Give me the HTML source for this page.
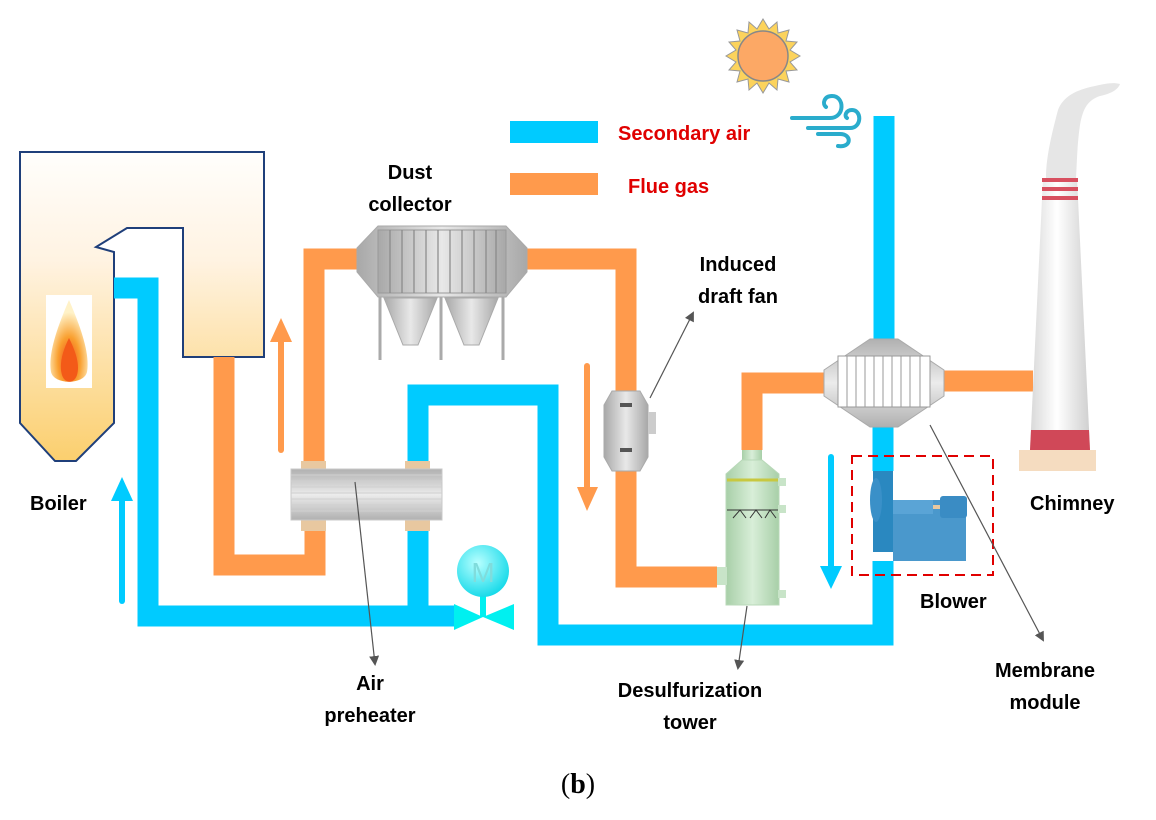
<!DOCTYPE html>
<html><head><meta charset="utf-8"><style>
body{margin:0;background:#fff}
svg{display:block}
text{font-family:"Liberation Sans",sans-serif;font-weight:bold;font-size:20px;fill:#000}
</style></head><body>
<svg width="1156" height="820" viewBox="0 0 1156 820" xmlns="http://www.w3.org/2000/svg">
<defs>
<linearGradient id="bg" x1="0" y1="0" x2="0" y2="1"><stop offset="0" stop-color="#fffefc"/><stop offset="0.35" stop-color="#fff3e2"/><stop offset="1" stop-color="#fbcf6e"/></linearGradient>
<radialGradient id="fl" cx="0.5" cy="0.75" r="0.6"><stop offset="0" stop-color="#f04818"/><stop offset="0.5" stop-color="#f9a030"/><stop offset="1" stop-color="#fff2c8"/></radialGradient>
<linearGradient id="gr" x1="0" y1="0" x2="1" y2="0"><stop offset="0" stop-color="#a8a8a8"/><stop offset="0.5" stop-color="#e8e8e8"/><stop offset="1" stop-color="#a8a8a8"/></linearGradient>
<linearGradient id="grv" x1="0" y1="0" x2="0" y2="1"><stop offset="0" stop-color="#b0b0b0"/><stop offset="0.5" stop-color="#ececec"/><stop offset="1" stop-color="#b0b0b0"/></linearGradient>
<linearGradient id="gn" x1="0" y1="0" x2="1" y2="0"><stop offset="0" stop-color="#a8cfa8"/><stop offset="0.5" stop-color="#d8eed8"/><stop offset="1" stop-color="#a8cfa8"/></linearGradient>
<linearGradient id="ch" x1="0" y1="0" x2="1" y2="0"><stop offset="0" stop-color="#d8d8d8"/><stop offset="0.45" stop-color="#ffffff"/><stop offset="1" stop-color="#cfcfcf"/></linearGradient>
<radialGradient id="mo" cx="0.4" cy="0.35" r="0.7"><stop offset="0" stop-color="#b8ffff"/><stop offset="1" stop-color="#10d8e8"/></radialGradient>
<marker id="ah" markerWidth="10" markerHeight="10" refX="8" refY="5" orient="auto" markerUnits="userSpaceOnUse"><path d="M0,0 L10,5 L0,10 Z" fill="#555"/></marker>
</defs>

<!-- legend -->
<rect x="510" y="121" width="88" height="22" fill="#00cbff"/>
<rect x="510" y="173" width="88" height="22" fill="#ff9a4c"/>
<text x="618" y="140" style="fill:#e00000">Secondary air</text>
<text x="628" y="193" style="fill:#e00000">Flue gas</text>

<!-- sun -->
<g transform="translate(763,56)">
<polygon fill="#fcd35c" stroke="#999" stroke-width="1" points="0,-37 6,-27 14,-34 15,-23 26,-26 23,-15 34,-14 27,-6 37,0 27,6 34,14 23,15 26,26 15,23 14,34 6,27 0,37 -6,27 -14,34 -15,23 -26,26 -23,15 -34,14 -27,6 -37,0 -27,-6 -34,-14 -23,-15 -26,-26 -15,-23 -14,-34 -6,-27"/>
<circle r="25" fill="#fca865" stroke="#888" stroke-width="1.5"/>
</g>
<!-- wind -->
<g fill="none" stroke="#2aaccc" stroke-width="4" stroke-linecap="round">
<path d="M792,118 H830 C845,118 845,96 832,96 C824,96 822,104 826,107"/>
<path d="M808,128 H850 C862,128 862,110 852,110 C846,110 844,116 847,118"/>
<path d="M818,134 H840 C852,134 852,148 838,146"/>
</g>

<!-- boiler -->
<path d="M20,152 H264 V357 H183 V228 H127 L96,247 L114,252 V423 L76,461 H55 L20,423 Z" fill="url(#bg)" stroke="#1f3f7a" stroke-width="2"/>
<rect x="46" y="295" width="46" height="93" fill="#fff"/>
<path d="M69,300 C56,330 48,355 51,372 C54,385 84,385 87,372 C90,355 82,330 69,300 Z" fill="url(#fl)"/>
<path d="M69,338 C62,352 59,365 62,375 C65,384 74,384 77,375 C80,365 76,352 69,338 Z" fill="#f35a18"/>

<!-- blue pipes -->
<g fill="none" stroke="#00cbff" stroke-width="21">
<polyline points="114,288 148,288 148,616 454,616"/>
<polyline points="418,616 418,395 548,395 548,635 883,635 883,561"/>
<line x1="883" y1="427" x2="883" y2="471"/>
<line x1="884" y1="116" x2="884" y2="339"/>
</g>
<!-- orange pipes -->
<g fill="none" stroke="#ff9a4c" stroke-width="21">
<polyline points="224,357 224,565 315,565 315,520"/>
<polyline points="314,469 314,259 358,259"/>
<polyline points="527,259 626,259 626,391"/>
<polyline points="626,471 626,577 717,577"/>
<polyline points="752,450 752,383 824,383"/>
<line x1="944" y1="381" x2="1033" y2="381"/>
</g>

<!-- flow arrows -->
<g stroke-linecap="round">
<line x1="122" y1="601" x2="122" y2="495" stroke="#00cbff" stroke-width="6"/>
<polygon points="122,477 111,501 133,501" fill="#00cbff"/>
<line x1="281" y1="450" x2="281" y2="338" stroke="#ff9a4c" stroke-width="6"/>
<polygon points="281,318 270,342 292,342" fill="#ff9a4c"/>
<line x1="587" y1="366" x2="587" y2="492" stroke="#ff9a4c" stroke-width="6"/>
<polygon points="587,511 577,487 598,487" fill="#ff9a4c"/>
<line x1="831" y1="457" x2="831" y2="570" stroke="#00cbff" stroke-width="6"/>
<polygon points="831,589 820,566 842,566" fill="#00cbff"/>
</g>

<!-- air preheater -->
<rect x="301" y="461" width="25" height="70" fill="#e8c8a0"/>
<rect x="405" y="461" width="25" height="70" fill="#e8c8a0"/>
<rect x="291" y="469" width="151" height="51" fill="url(#grv)" stroke="#c8c8c8"/>
<g stroke="#d0d0d0" stroke-width="1">
<line x1="291" y1="475" x2="442" y2="475"/><line x1="291" y1="481" x2="442" y2="481"/><line x1="291" y1="487" x2="442" y2="487"/><line x1="291" y1="493" x2="442" y2="493"/><line x1="291" y1="499" x2="442" y2="499"/><line x1="291" y1="505" x2="442" y2="505"/><line x1="291" y1="511" x2="442" y2="511"/>
</g>

<!-- dust collector -->
<polygon points="357,248 378,226 506,226 527,248 527,272 506,297 378,297 357,272" fill="url(#gr)" stroke="#aaa"/>
<rect x="378" y="230" width="128" height="63" fill="url(#gr)" stroke="#999"/>
<g stroke="#888" stroke-width="1.2">
<line x1="390" y1="230" x2="390" y2="293"/><line x1="402" y1="230" x2="402" y2="293"/><line x1="414" y1="230" x2="414" y2="293"/><line x1="426" y1="230" x2="426" y2="293"/><line x1="438" y1="230" x2="438" y2="293"/><line x1="450" y1="230" x2="450" y2="293"/><line x1="462" y1="230" x2="462" y2="293"/><line x1="474" y1="230" x2="474" y2="293"/><line x1="486" y1="230" x2="486" y2="293"/><line x1="496" y1="230" x2="496" y2="293"/>
</g>
<polygon points="384,298 437,298 418,345 403,345" fill="url(#gr)" stroke="#aaa"/>
<polygon points="445,298 498,298 479,345 464,345" fill="url(#gr)" stroke="#aaa"/>
<g stroke="#aaa" stroke-width="3"><line x1="380" y1="297" x2="380" y2="360"/><line x1="441" y1="297" x2="441" y2="360"/><line x1="503" y1="297" x2="503" y2="360"/></g>

<!-- induced draft fan -->
<polygon points="612,391 640,391 648,405 648,457 640,471 612,471 604,457 604,405" fill="url(#gr)" stroke="#aaa"/>
<rect x="648" y="412" width="8" height="22" fill="#ccc"/>
<rect x="620" y="403" width="12" height="4" fill="#555"/><rect x="620" y="448" width="12" height="4" fill="#555"/>

<!-- desulfurization tower -->
<rect x="742" y="450" width="20" height="22" fill="url(#gn)"/>
<path d="M742,460 L726,474 V605 H779 V474 L762,460 Z" fill="url(#gn)" stroke="#b8d8b8"/>
<rect x="778" y="478" width="8" height="8" fill="#c8e4c8"/><rect x="778" y="505" width="8" height="8" fill="#c8e4c8"/><rect x="778" y="590" width="8" height="8" fill="#c8e4c8"/>
<rect x="717" y="567" width="10" height="18" fill="#c8e4c8"/>
<line x1="727" y1="480" x2="778" y2="480" stroke="#c8c840" stroke-width="3"/>
<line x1="727" y1="510" x2="778" y2="510" stroke="#333" stroke-width="1"/>
<path d="M733,518 L740,510 L746,518 M750,518 L756,510 L762,518 M765,518 L770,510 L776,518" stroke="#333" fill="none"/>

<!-- membrane module -->
<polygon points="824,370 870,339 898,339 944,370 944,396 898,427 870,427 824,396" fill="url(#grv)" stroke="#aaa"/>
<rect x="838" y="356" width="92" height="51" fill="#fff" stroke="#999"/>
<g stroke="#999"><line x1="847" y1="356" x2="847" y2="407"/><line x1="856" y1="356" x2="856" y2="407"/><line x1="865" y1="356" x2="865" y2="407"/><line x1="874" y1="356" x2="874" y2="407"/><line x1="883" y1="356" x2="883" y2="407"/><line x1="892" y1="356" x2="892" y2="407"/><line x1="901" y1="356" x2="901" y2="407"/><line x1="910" y1="356" x2="910" y2="407"/><line x1="920" y1="356" x2="920" y2="407"/></g>

<!-- blower -->
<rect x="873" y="471" width="20" height="81" fill="#2a88c0"/>
<ellipse cx="876" cy="500" rx="6" ry="22" fill="#3a90c8"/>
<rect x="893" y="500" width="73" height="61" fill="#4a98cc"/>
<rect x="893" y="500" width="40" height="14" fill="#5aa4d6"/>
<rect x="933" y="505" width="8" height="4" fill="#e8c8a0"/>
<rect x="940" y="496" width="27" height="22" rx="3" fill="#3a8cc4"/>
<rect x="852" y="456" width="141" height="119" fill="none" stroke="#e00000" stroke-width="2" stroke-dasharray="10,6"/>

<!-- chimney -->
<path d="M1046,178 C1046,160 1050,140 1058,110 C1063,97 1075,90 1095,86 C1105,84 1112,82 1120,84 C1118,90 1110,94 1100,96 C1088,100 1083,108 1080,125 C1077,145 1077,165 1076,178 Z" fill="#e6e6e6"/>
<path d="M1043,178 H1077 L1090,450 H1030 Z" fill="url(#ch)"/>
<rect x="1042" y="178" width="36" height="4" fill="#d85060"/>
<rect x="1042" y="187" width="36" height="4" fill="#d85060"/>
<rect x="1042" y="196" width="36" height="4" fill="#d85060"/>
<path d="M1031,430 H1089 L1090,450 H1030 Z" fill="#d04858"/>
<rect x="1019" y="450" width="77" height="21" fill="#f5dcc0"/>

<!-- motor valve -->
<polygon points="454,604 483,617 454,630" fill="#00f0f0"/>
<polygon points="514,604 483,617 514,630" fill="#00f0f0"/>
<rect x="480" y="590" width="6" height="27" fill="#00f0f0"/>
<circle cx="483" cy="571" r="26" fill="url(#mo)"/>
<text x="483" y="582" text-anchor="middle" style="font-weight:normal;font-size:28px;fill:#80dcdc">M</text>

<!-- leader lines -->
<g stroke="#555" stroke-width="1.2" fill="none">
<line x1="355" y1="482" x2="375" y2="664" marker-end="url(#ah)"/>
<line x1="650" y1="398" x2="693" y2="313" marker-end="url(#ah)"/>
<line x1="747" y1="606" x2="738" y2="668" marker-end="url(#ah)"/>
<line x1="930" y1="425" x2="1043" y2="640" marker-end="url(#ah)"/>
</g>

<!-- labels -->
<text x="410" y="179" text-anchor="middle">Dust</text>
<text x="410" y="211" text-anchor="middle">collector</text>
<text x="738" y="271" text-anchor="middle">Induced</text>
<text x="738" y="303" text-anchor="middle">draft fan</text>
<text x="30" y="510">Boiler</text>
<text x="1030" y="510">Chimney</text>
<text x="920" y="608">Blower</text>
<text x="1045" y="677" text-anchor="middle">Membrane</text>
<text x="1045" y="709" text-anchor="middle">module</text>
<text x="370" y="690" text-anchor="middle">Air</text>
<text x="370" y="722" text-anchor="middle">preheater</text>
<text x="690" y="697" text-anchor="middle">Desulfurization</text>
<text x="690" y="729" text-anchor="middle">tower</text>
<text x="578" y="793" text-anchor="middle" style="font-family:'Liberation Serif',serif;font-weight:normal;font-size:28px">(<tspan style="font-weight:bold">b</tspan>)</text>
</svg>
</body></html>
